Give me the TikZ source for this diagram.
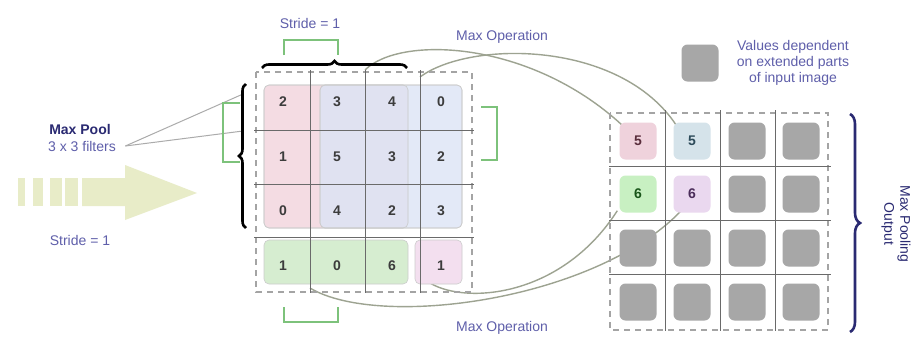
\documentclass[tikz,border=0pt]{standalone}
\usepackage{fontspec}
\setmainfont{Liberation Sans}
\usepackage{xcolor}
\usetikzlibrary{arrows.meta, positioning, calc, backgrounds, decorations.pathreplacing}
\definecolor{ink}{HTML}{3C3C3C}
\definecolor{lilac}{HTML}{5F5FAA}
\definecolor{navy}{HTML}{2A2A72}
\definecolor{wirec}{HTML}{9DA391}
\definecolor{gridln}{HTML}{6A6A6A}
\definecolor{dashgray}{HTML}{A4A4A4}
\definecolor{leaf}{HTML}{7DC27B}
\definecolor{straw}{HTML}{E8ECC8}
\definecolor{rosy}{HTML}{F4DCE3}
\definecolor{sky}{HTML}{DCE4F5}
\definecolor{mint}{HTML}{D6EDD0}
\definecolor{orchid}{HTML}{F3DFEF}
\definecolor{stone}{HTML}{A7A7A7}
\definecolor{pinkcell}{HTML}{EFD2DC}
\definecolor{bluecell}{HTML}{D5E3EA}
\definecolor{greencell}{HTML}{C8F0C2}
\definecolor{lavcell}{HTML}{EAD8EF}

\begin{document}
\begin{tikzpicture}[x=1pt, y=-1pt,
  font=\fontsize{14}{16}\selectfont,
  num/.style={font=\fontsize{14}{16}\selectfont\bfseries, text=ink},
  lbl/.style={text=lilac},
  window/.style={rounded corners=5pt, draw=black!20, line width=0.6pt},
  gline/.style={draw=gridln, line width=1pt},
  frame/.style={draw=dashgray, line width=1.3pt, dash pattern=on 6pt off 5pt},
  bracket/.style={draw=leaf, line width=1.6pt},
  wire/.style={draw=wirec, line width=1.4pt},
  cell/.style={rectangle, rounded corners=6pt, minimum size=37pt, inner sep=0pt,
               fill=stone, num},
  brc/.style={decorate, decoration={brace, amplitude=7pt}, line width=2.6pt},
]
\useasboundingbox (0,0) rectangle (922,341);
\begin{scope}[on background layer]
  \fill[white] (0,0) rectangle (922,341);
\end{scope}

% ---------------- left: filter label and stride arrow
\fill[straw] (82,178) -- (125,178) -- (125,165) -- (197,193) -- (125,220)
  -- (125,206) -- (82,206) -- cycle;
\foreach \a/\b in {18/25,33/43,50/62,65/78} {\fill[straw] (\a,178) rectangle (\b,206);}
\node[font=\fontsize{14}{16}\selectfont\bfseries, text=navy] (poolHead) at (80,129) {Max Pool};
\node[lbl] (poolSub) at (82,146) {3 x 3 filters};
\node[lbl] (strideLeft) at (80,240) {Stride = 1};
\coordinate (hitA) at (243,94);
\coordinate (hitB) at (243,131);
\draw[draw=black!33, line width=1pt] ([xshift=6pt]poolSub.east) -- (hitA);
\draw[draw=black!33, line width=1pt] ([xshift=6pt]poolSub.east) -- (hitB);

% ---------------- input grid
\fill[rosy] [window] (264,85) rectangle (408,228);
\fill[sky, fill opacity=0.8] [window] (320,85) rectangle (462,228);
\draw[window] (264,85) rectangle (408,228);
\draw[window] (320,85) rectangle (462,228);
\filldraw[window, fill=mint] (264,240) rectangle (408,284);
\filldraw[window, fill=orchid] (415,240) rectangle (462,284);
\draw[frame] (256,72) rectangle (472,292);
\foreach \x in {310,365,420} {\draw[gline] (\x,70) -- (\x,293);}
\foreach \y in {130,184,237} {\draw[gline] (254,\y) -- (474,\y);}
\foreach \y [count=\r] in {102,157,211,266}
  \foreach \x [count=\c] in {283,337,392,441}
    \coordinate (p\r\c) at (\x,\y);
\foreach \v [count=\k from 0] in {2,3,4,0,1,5,3,2,0,4,2,3,1,0,6,1} {
  \pgfmathtruncatemacro\r{div(\k,4)+1}
  \pgfmathtruncatemacro\c{mod(\k,4)+1}
  \node[num] (in\r\c) at (p\r\c) {\v};
}
\coordinate (srcA) at (365,70);
\coordinate (srcB) at (420,77);
\coordinate (srcC) at (427,281);
\coordinate (srcD) at (310,288);

% braces and stride brackets
\draw[brc] (262,68) -- (407,68);
\draw[brc] (246,228) -- (246,84);
\draw[bracket] (284,55) -- (284,40) -- (338,40) -- (338,55);
\draw[bracket] (284,307) -- (284,322) -- (338,322) -- (338,307);
\draw[bracket] (240,103) -- (223,103) -- (223,162) -- (240,162);
\draw[bracket] (481,107) -- (497,107) -- (497,160) -- (481,160);
\node[lbl] (strideTop) at (310,23) {Stride = 1};
\node[lbl] (opTop) at (502,37) {Max Operation};
\node[lbl] (opBot) at (502,328) {Max Operation};

% ---------------- output grid
\draw[frame] (610,113) rectangle (828,330);
\foreach \x in {665,720,775} {\draw[gline] (\x,110) -- (\x,331);}
\foreach \y in {166,220,274} {\draw[gline] (609,\y) -- (831,\y);}
\foreach \y [count=\r] in {141,194,248,302}
  \foreach \x [count=\c] in {638,692,747,801}
    \coordinate (q\r\c) at (\x,\y);
\node[cell, fill=pinkcell, text={rgb,255:red,90;green,45;blue,60}] (out11) at (q11) {5};
\node[cell, fill=bluecell, text={rgb,255:red,45;green,75;blue,90}] (out12) at (q12) {5};
\node[cell, fill=greencell, text={rgb,255:red,25;green,85;blue,25}] (out21) at (q21) {6};
\node[cell, fill=lavcell, text={rgb,255:red,75;green,45;blue,90}] (out22) at (q22) {6};
\foreach \r in {1,2} \foreach \c in {3,4} {\node[cell] (out\r\c) at (q\r\c) {};}
\foreach \r in {3,4} \foreach \c in {1,...,4} {\node[cell] (out\r\c) at (q\r\c) {};}
\draw[brc, navy, decoration={amplitude=10pt}] (850,114) -- (850,332);
\node[text=navy, rotate=-90, align=center] (poolOut) at (896,224) {Max Pooling\\Output};

% legend
\node[cell] (legendBox) at (700,63) {};
\node[lbl, align=center] (legendTxt) at (793,63) {Values dependent\\on extended parts\\of input image};

% ---------------- max operation wires (behind the cells)
\begin{scope}[on background layer]
  \draw[wire] (srcA) .. controls (400,35) and (530,40) .. ([shift={(3,3)}]out11.north west);
  \draw[wire] (srcB) .. controls (470,40) and (620,40) .. ([shift={(3,3)}]out12.north west);
  \draw[wire] (srcC) .. controls (460,305) and (560,300) .. ([shift={(-2,-2)}]out21.south west);
  \draw[wire] (srcD) .. controls (380,330) and (600,300) .. ([shift={(-8,-5)}]out22.south);
\end{scope}
\end{tikzpicture}
\end{document}
